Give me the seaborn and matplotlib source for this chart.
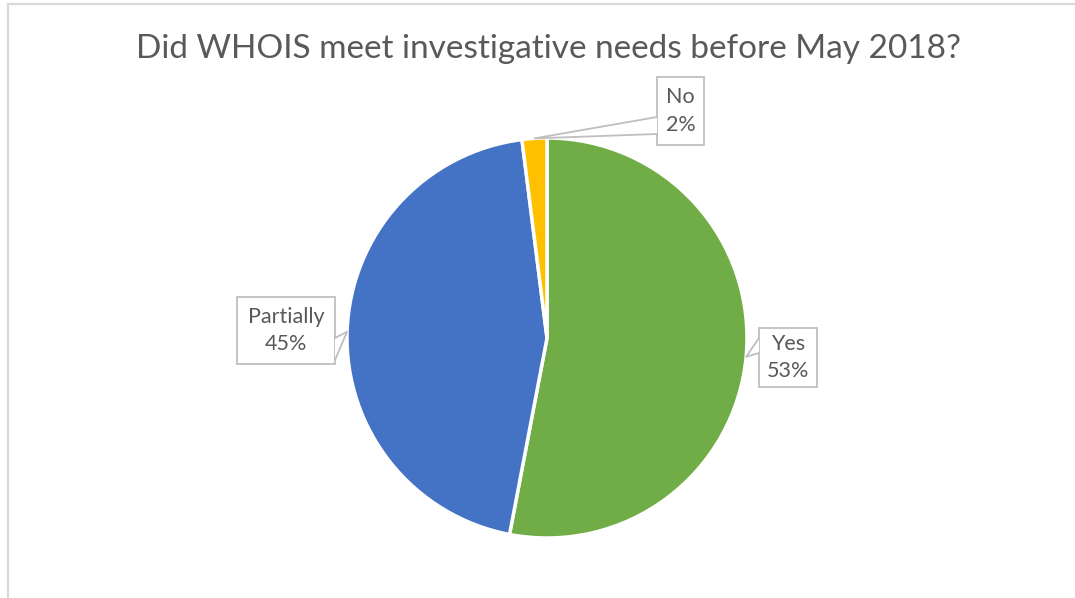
import matplotlib
matplotlib.use("Agg")
import matplotlib.pyplot as plt
import seaborn as sns
import numpy as np
from matplotlib.patches import Polygon, Rectangle
from matplotlib.lines import Line2D

sns.set_theme(style="white")
plt.rcParams['font.family'] = ['Lato', 'DejaVu Sans']

title = "Did WHOIS meet investigative needs before May 2018?"
categories = ["Yes", "Partially", "No"]
values = [53, 45, 2]
colors = ["#70AD47", "#4472C4", "#FFC000"]

W, H = 1075, 598
fig = plt.figure(figsize=(W / 100, H / 100), dpi=100)
fig.patch.set_facecolor("white")

cx, cy, r = 547, 338, 200
ax = fig.add_axes([(cx - r) / W, (H - cy - r) / H, 2 * r / W, 2 * r / H])
wedges, _ = ax.pie(values, colors=colors, startangle=90, counterclock=False,
                   radius=1, wedgeprops=dict(edgecolor="white", linewidth=2.5))
ax.set_xlim(-1, 1)
ax.set_ylim(-1, 1)
ax.set_aspect("equal")
ax.axis("off")

def px(x, y):
    return ((x - cx) / r, (cy - y) / r)

# callout boxes: (left, top, right, bottom) pixels; pointer base pts
boxes = {
    "No": dict(box=(657, 77, 704, 145), base=[(657, 117), (657, 134)]),
    "Partially": dict(box=(237, 297, 335, 364), base=[(335, 338), (335, 360)]),
    "Yes": dict(box=(759, 328, 817, 387), base=[(759, 338), (759, 353)]),
}
edge = "#BFBFBF"
total = sum(values)
for cat, val, w in zip(categories, values, wedges):
    theta = np.deg2rad((w.theta1 + w.theta2) / 2)
    tip = (np.cos(theta), np.sin(theta))
    b = boxes[cat]
    l, t, rr, bt = b["box"]
    x0, y0 = px(l, bt)
    x1, y1 = px(rr, t)
    rect = Rectangle((x0, y0), x1 - x0, y1 - y0, facecolor="white", edgecolor=edge,
                     linewidth=1.3, clip_on=False, zorder=5)
    ax.add_patch(rect)
    p1 = px(*b["base"][0])
    p2 = px(*b["base"][1])
    tri = Polygon([p1, tip, p2], closed=True, facecolor="white", edgecolor="none",
                  clip_on=False, zorder=6)
    ax.add_patch(tri)
    ax.add_line(Line2D([p1[0], tip[0], p2[0]], [p1[1], tip[1], p2[1]], color=edge,
                       linewidth=1.3, clip_on=False, zorder=7))
    ax.text((x0 + x1) / 2, (y0 + y1) / 2, f"{cat}\n{val / total * 100:.0f}%",
            ha="center", va="center", fontsize=15.5, color="#595959",
            linespacing=1.45, zorder=8, clip_on=False)

fig.text(549 / W, 1 - 49 / H, title, ha="center", va="center", fontsize=24,
         color="#595959")

# chart area border (cropped on right/bottom)
fig.add_artist(Line2D([8 / W, 1.0], [1 - 4 / H, 1 - 4 / H], transform=fig.transFigure,
                      color="#D9D9D9", linewidth=1.6))
fig.add_artist(Line2D([8 / W, 8 / W], [1 - 4 / H, 0.0], transform=fig.transFigure,
                      color="#D9D9D9", linewidth=1.6))

fig.savefig("out.png", dpi=100, facecolor="white")
